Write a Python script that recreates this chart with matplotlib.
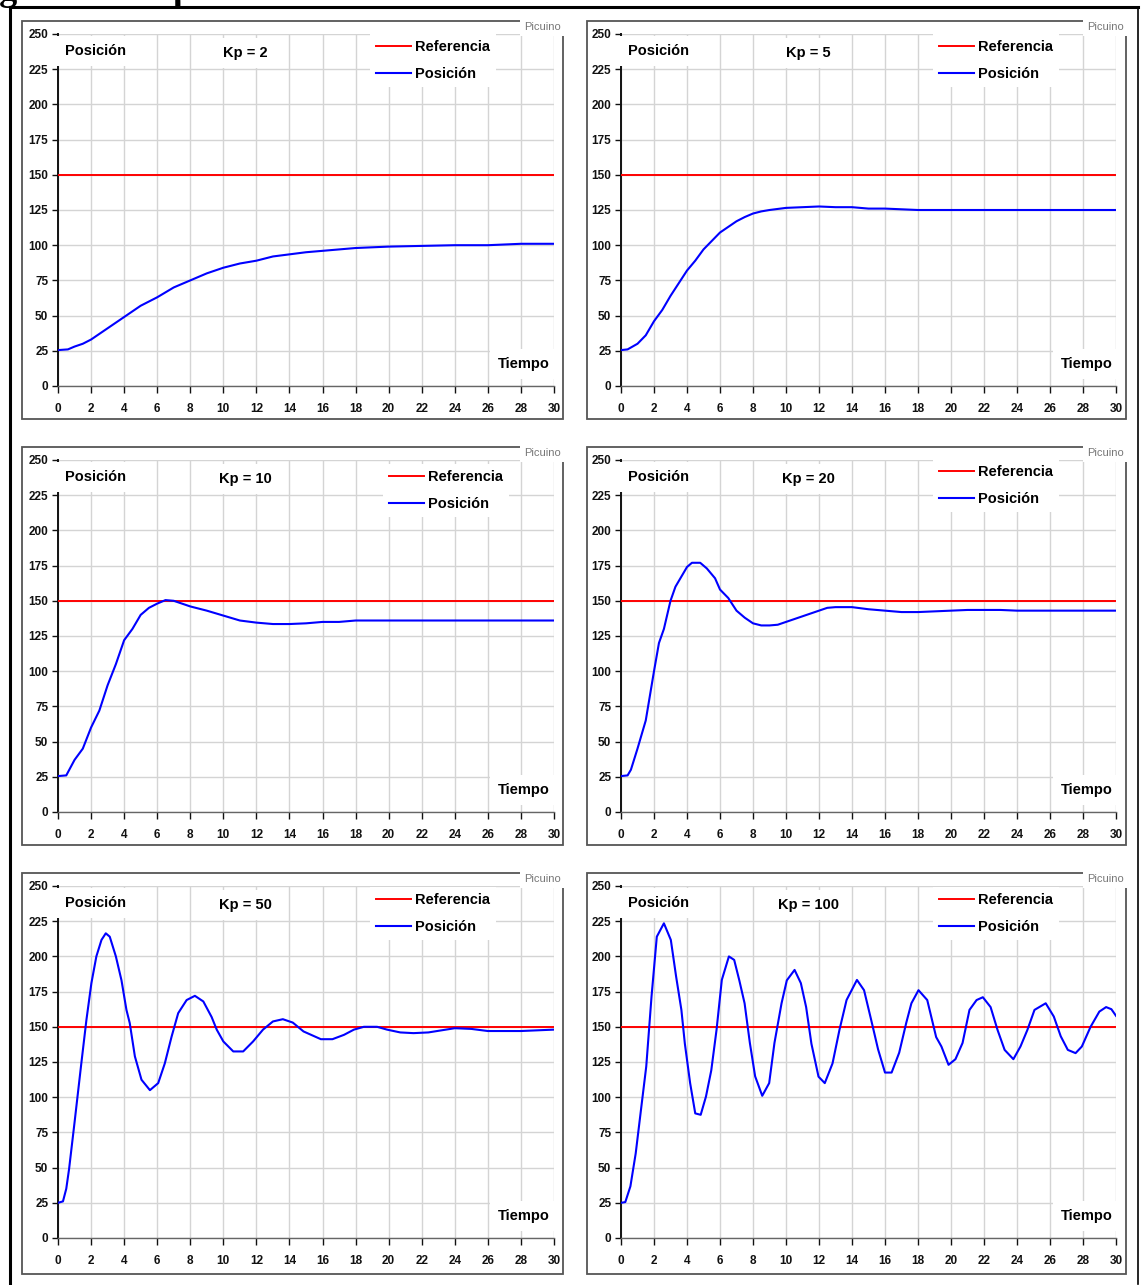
import matplotlib
matplotlib.use("Agg")
import matplotlib.pyplot as plt
from matplotlib.patches import Rectangle
from matplotlib.lines import Line2D

W, H = 1141, 1285

# ---- data ----
kp_labels = ["Kp = 2", "Kp = 5", "Kp = 10", "Kp = 20", "Kp = 50", "Kp = 100"]
referencia = 150

t_kp2 = [0, 0.6, 1, 1.5, 2, 3, 4, 5, 6, 7, 8, 9, 10, 11, 12, 13, 14, 15, 16, 17,
         18, 19, 20, 22, 24, 26, 28, 30]
y_kp2 = [25.5, 26, 28, 30, 33, 41, 49, 57, 63, 70, 75, 80, 84, 87, 89, 92, 93.5,
         95, 96, 97, 98, 98.5, 99, 99.5, 100, 100, 101, 101]

t_kp5 = [0, 0.4, 1, 1.5, 2, 2.5, 3, 3.5, 4, 4.5, 5, 5.5, 6, 6.5, 7, 7.5, 8, 8.5,
         9, 10, 11, 12, 13, 14, 15, 16, 17, 18, 30]
y_kp5 = [25.5, 26, 30, 36, 46, 54, 64, 73, 82, 89, 97, 103, 109, 113, 117, 120,
         122.5, 124, 125, 126.5, 127, 127.5, 127, 127, 126, 126, 125.5, 125, 125]

t_kp10 = [0, 0.5, 1, 1.5, 2, 2.5, 3, 3.5, 4, 4.5, 5, 5.5, 6, 6.5, 7, 7.5, 8, 9,
          10, 11, 12, 13, 14, 15, 16, 17, 18, 20, 30]
y_kp10 = [25.5, 26, 37, 45, 60, 72, 90, 105, 122, 130, 140, 145, 148, 150.5, 150,
          148, 146, 143, 139.5, 136, 134.5, 133.5, 133.5, 134, 135, 135, 136, 136, 136]

t_kp20 = [0, 0.4, 0.6, 1, 1.5, 2, 2.3, 2.6, 3, 3.3, 3.7, 4, 4.3, 4.8, 5.2, 5.7, 6,
          6.5, 7, 7.5, 8, 8.5, 9, 9.5, 10, 11, 12, 12.5, 13, 14, 15, 16, 17, 18,
          19, 20, 21, 23, 24, 30]
y_kp20 = [25.5, 26, 30, 45, 65, 100, 120, 130, 150, 160, 168, 174, 177, 177, 173,
          166, 158, 152, 143, 138, 134, 132.5, 132.5, 133, 135, 139, 143, 145,
          145.5, 145.5, 144, 143, 142, 142, 142.5, 143, 143.5, 143.5, 143, 143]

t_kp50 = [0, 0.3, 0.5, 0.67, 1.0, 1.41, 1.72, 2.02, 2.32, 2.63, 2.89, 3.13, 3.5,
          3.84, 4.14, 4.34, 4.65, 5.05, 5.56, 6.06, 6.46, 6.87, 7.27, 7.78, 8.28,
          8.79, 9.29, 9.6, 10.0, 10.6, 11.2, 11.8, 12.4, 13.0, 13.6, 14.2, 14.85,
          15.9, 16.6, 17.3, 17.9, 18.5, 19.3, 19.9, 20.7, 21.5, 22.4, 23.2, 24.0,
          25.0, 26.0, 28.0, 30.0]
y_kp50 = [25, 26, 35, 49, 82, 124, 155, 181, 200, 211.7, 216.4, 214, 200, 183, 162,
          152.6, 129, 112.4, 105, 110, 124, 143, 159.7, 169, 172, 168, 157, 148,
          139.6, 132.5, 132.5, 139.6, 148, 153.8, 155.4, 153, 146.7, 141.2, 141.2,
          144.3, 148, 150, 150, 148, 146, 145.5, 146, 147.5, 149, 148.5, 147,
          147, 148]

t_kp100 = [0, 0.26, 0.57, 0.89, 1.21, 1.53, 1.85, 2.17, 2.6, 3.02, 3.34, 3.66, 3.87,
           4.19, 4.5, 4.83, 5.15, 5.47, 5.79, 6.11, 6.54, 6.86, 7.17, 7.49, 7.81,
           8.13, 8.56, 8.98, 9.3, 9.73, 10.05, 10.52, 10.9, 11.22, 11.54, 11.97,
           12.35, 12.82, 13.24, 13.67, 14.3, 14.73, 15.16, 15.58, 16.0, 16.4,
           16.86, 17.29, 17.6, 18.03, 18.56, 19.1, 19.42, 19.85, 20.27, 20.7,
           21.12, 21.55, 21.93, 22.4, 22.82, 23.25, 23.78, 24.21, 24.63, 25.06,
           25.74, 26.23, 26.65, 27.08, 27.55, 27.93, 28.46, 28.99, 29.4, 29.72, 30]
y_kp100 = [25, 25.5, 36.7, 60, 91, 121.8, 171.5, 214, 223.5, 211.7, 185.7, 162, 138,
           110, 88.5, 87.5, 100.5, 119, 147.8, 183.3, 200, 197.5, 183, 166.7,
           138.5, 114.8, 101, 110, 138.5, 166.7, 183, 190.4, 181, 164, 138, 114.6,
           110, 124, 147.8, 169, 183.3, 176, 155, 134, 117.5, 117.5, 131.6, 152.9,
           166.7, 176, 169, 142.7, 136, 123, 127, 138.5, 162, 169, 171, 164, 147.8,
           133.6, 127, 136, 147.8, 162, 166.7, 157.3, 143.3, 133.6, 131.3, 136,
           150, 160.8, 164, 162.5, 157.8]

series = [(t_kp2, y_kp2), (t_kp5, y_kp5), (t_kp10, y_kp10),
          (t_kp20, y_kp20), (t_kp50, y_kp50), (t_kp100, y_kp100)]

x_ticks = list(range(0, 31, 2))
y_ticks = list(range(0, 251, 25))

# ---- layout (pixels) ----
col_axes = [(58, 554), (621, 1116)]
row_axes = [(34, 386), (460, 812), (886, 1238)]
col_box = [(22, 563), (587, 1126)]
row_box = [(21, 419), (447, 845), (873, 1274)]
legend_dy = [12, 12, 16, 11, 13, 13]
legend_dx = [317, 317, 330, 317, 317, 317]

plt.rcParams['font.family'] = ['Liberation Sans', 'DejaVu Sans']

fig = plt.figure(figsize=(W / 100, H / 100), dpi=100)
fig.patch.set_facecolor('white')


def fx(px):
    return px / W


def fy(py):
    return 1 - py / H


# outer frame
fig.add_artist(Line2D([fx(10), fx(1138)], [fy(7), fy(7)], color='black', lw=2.2))
fig.add_artist(Line2D([fx(10), fx(10)], [fy(7), fy(1284)], color='black', lw=2.2))
fig.add_artist(Line2D([fx(1138), fx(1138)], [fy(7), fy(1284)], color='black', lw=1.2))
# caption of the page, only its lower part shows at the top edge
fig.text(fx(-33), fy(0), "Figura 6. Respuesta", fontsize=26, family='Liberation Serif',
         weight='bold', va='baseline', ha='left')

for i, (kp, (tt, yy)) in enumerate(zip(kp_labels, series)):
    r, c = divmod(i, 2)
    x0, x1 = col_axes[c]
    y0, y1 = row_axes[r]
    bx0, bx1 = col_box[c]
    by0, by1 = row_box[r]

    # panel box
    fig.add_artist(Rectangle((fx(bx0), fy(by1)), fx(bx1 - bx0), (by1 - by0) / H,
                             fill=False, edgecolor='#555555', lw=1.3))

    ax = fig.add_axes([fx(x0), fy(y1), fx(x1 - x0), (y1 - y0) / H])
    ax.set_xlim(0, 30)
    ax.set_ylim(0, 250)
    ax.set_xticks(x_ticks)
    ax.set_yticks(y_ticks)
    ax.grid(True, color='#d4d4d4', lw=1.0)
    ax.set_axisbelow(True)
    for s in ['top', 'right']:
        ax.spines[s].set_visible(False)
    ax.spines['left'].set_color('#111111')
    ax.spines['left'].set_linewidth(1.4)
    ax.spines['bottom'].set_color('#666666')
    ax.spines['bottom'].set_linewidth(1.0)
    ax.tick_params(axis='y', length=4, width=1, pad=3, labelsize=8.5, colors='#111111')
    ax.tick_params(axis='x', length=5, width=1, pad=7, labelsize=8.5, colors='#111111')
    for lab in ax.get_xticklabels() + ax.get_yticklabels():
        lab.set_fontweight('bold')

    ax.axhline(referencia, color='#ff0000', lw=1.4, label='Referencia', zorder=3)
    ax.plot(tt, yy, color='#0000ff', lw=1.5, label='Posición', zorder=4)

    wbox = dict(facecolor='white', edgecolor='none', pad=6)
    w = x1 - x0
    h = y1 - y0
    ax.text(7 / w, 1 - 17 / h, "Posición", transform=ax.transAxes, fontsize=10.5,
            weight='bold', ha='left', va='center', bbox=wbox, zorder=5)
    ax.text(187 / w, 1 - 19 / h, kp, transform=ax.transAxes, fontsize=10.5,
            weight='bold', ha='center', va='center', bbox=wbox, zorder=5)
    ax.text(492 / w, 22 / h, "Tiempo", transform=ax.transAxes, fontsize=10.5,
            weight='bold', ha='right', va='center', bbox=wbox, zorder=5)

    leg = ax.legend(loc='upper left',
                    bbox_to_anchor=((legend_dx[i] - 5) / w, 1 - (legend_dy[i] - 12) / h),
                    frameon=True, fancybox=False, borderpad=0.4, borderaxespad=0,
                    handlelength=2.4, handletextpad=0.3, labelspacing=0.9,
                    prop={'weight': 'bold', 'size': 10.5})
    leg.get_frame().set_edgecolor('none')
    leg.get_frame().set_facecolor('white')
    leg.get_frame().set_alpha(1)
    leg.set_zorder(6)

    fig.text(fx(bx1 - 2), fy(by0 + 6), "Picuino", fontsize=8, color='#777777',
             ha='right', va='center',
             bbox=dict(facecolor='white', edgecolor='none', pad=3))

fig.savefig("out.png", dpi=100, facecolor='white')
